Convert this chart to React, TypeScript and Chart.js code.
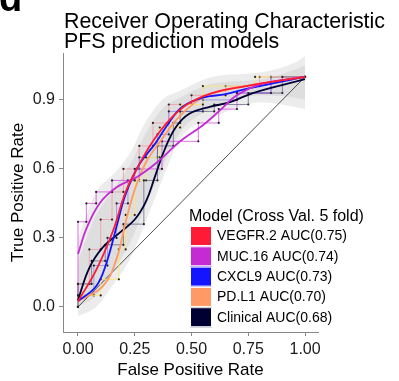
import React, { useEffect, useRef } from "react";
import { Chart, registerables } from "chart.js";

Chart.register(...registerables);

// ---------- data ----------
const modelNames = ["VEGFR.2", "MUC.16", "CXCL9", "PD.L1", "Clinical"];
const aucLabels = ["AUC(0.75)", "AUC(0.74)", "AUC(0.73)", "AUC(0.70)", "AUC(0.68)"];
const modelColors = ["#ff1a35", "#c42bd3", "#1414ff", "#ff9a66", "#000033"];
const stepColors = [
  "rgba(255,120,140,0.55)",
  "rgba(210,70,225,0.75)",
  "rgba(110,110,255,0.6)",
  "rgba(255,230,110,0.85)",
  "rgba(70,70,110,0.6)",
];
const xTicks = [0, 0.25, 0.5, 0.75, 1.0];
const yTicks = [0, 0.3, 0.6, 0.9];
const legendTitle = "Model (Cross Val. 5 fold)";
const titleLines = ["Receiver Operating Characteristic", "PFS prediction models"];
const panelLetter = "d";
const xTitle = "False Positive Rate";
const yTitle = "True Positive Rate";

// smoothed ROC curves (fpr / tpr)
const vegfrFpr = [0, 0.08, 0.154, 0.21, 0.27, 0.33, 0.4, 0.48, 0.59, 0.74, 1];
const vegfrTpr = [0.025, 0.16, 0.33, 0.5, 0.62, 0.72, 0.81, 0.88, 0.93, 0.96, 1.0];
const mucFpr = [0, 0.037, 0.095, 0.17, 0.26, 0.35, 0.45, 0.55, 0.62, 0.7, 0.81, 1];
const mucTpr = [0.23, 0.34, 0.45, 0.52, 0.565, 0.63, 0.72, 0.79, 0.85, 0.92, 0.97, 1.0];
const cxclFpr = [0, 0.08, 0.125, 0.17, 0.21, 0.27, 0.34, 0.4, 0.46, 0.55, 0.65, 0.75, 1];
const cxclTpr = [0.025, 0.09, 0.19, 0.35, 0.49, 0.62, 0.71, 0.8, 0.87, 0.91, 0.925, 0.95, 1.0];
const pdl1Fpr = [0, 0.11, 0.17, 0.21, 0.25, 0.3, 0.37, 0.43, 0.51, 0.58, 0.74, 1];
const pdl1Tpr = [0.025, 0.09, 0.21, 0.37, 0.51, 0.63, 0.73, 0.81, 0.885, 0.925, 0.96, 1.0];
const clinFpr = [0, 0.05, 0.11, 0.18, 0.25, 0.3, 0.34, 0.38, 0.43, 0.49, 0.58, 0.67, 0.77, 1];
const clinTpr = [0.03, 0.17, 0.26, 0.32, 0.38, 0.46, 0.57, 0.68, 0.78, 0.84, 0.87, 0.89, 0.93, 0.99];

// empirical step ROC vertices
const vegfrStepFpr = [0, 0, 0.05, 0.05, 0.1, 0.1, 0.15, 0.15, 0.2, 0.2, 0.27, 0.27, 0.33, 0.33, 0.4, 0.4, 0.5, 0.5, 0.65, 0.65, 0.8, 0.8, 1];
const vegfrStepTpr = [0, 0.1, 0.1, 0.25, 0.25, 0.38, 0.38, 0.5, 0.5, 0.6, 0.6, 0.7, 0.7, 0.8, 0.8, 0.88, 0.88, 0.92, 0.92, 0.96, 0.96, 1, 1];
const mucStepFpr = [0, 0, 0.037, 0.037, 0.08, 0.08, 0.15, 0.15, 0.25, 0.25, 0.37, 0.37, 0.53, 0.53, 0.62, 0.62, 0.7, 0.7, 0.85, 0.85, 1];
const mucStepTpr = [0, 0.37, 0.37, 0.45, 0.45, 0.5, 0.5, 0.55, 0.55, 0.6, 0.6, 0.72, 0.72, 0.8, 0.8, 0.86, 0.86, 0.93, 0.93, 1, 1];
const cxclStepFpr = [0, 0, 0.07, 0.07, 0.13, 0.13, 0.17, 0.17, 0.22, 0.22, 0.27, 0.27, 0.35, 0.35, 0.4, 0.4, 0.55, 0.55, 0.7, 0.7, 0.85, 0.85, 1];
const cxclStepTpr = [0, 0.05, 0.05, 0.18, 0.18, 0.3, 0.3, 0.45, 0.45, 0.55, 0.55, 0.65, 0.65, 0.75, 0.75, 0.85, 0.85, 0.9, 0.9, 0.93, 0.93, 1, 1];
const pdl1StepFpr = [0, 0, 0.1, 0.1, 0.18, 0.18, 0.21, 0.21, 0.25, 0.25, 0.3, 0.3, 0.36, 0.36, 0.45, 0.45, 0.55, 0.55, 0.78, 0.78, 1];
const pdl1StepTpr = [0, 0.05, 0.05, 0.12, 0.12, 0.25, 0.25, 0.4, 0.4, 0.55, 0.55, 0.65, 0.65, 0.78, 0.78, 0.88, 0.88, 0.96, 0.96, 1, 1];
const clinStepFpr = [0, 0, 0.06, 0.06, 0.12, 0.12, 0.2, 0.2, 0.29, 0.29, 0.35, 0.35, 0.42, 0.42, 0.45, 0.45, 0.6, 0.6, 0.75, 0.75, 0.9, 0.9, 1];
const clinStepTpr = [0, 0.1, 0.1, 0.2, 0.2, 0.27, 0.27, 0.36, 0.36, 0.55, 0.55, 0.7, 0.7, 0.8, 0.8, 0.85, 0.85, 0.88, 0.88, 0.93, 0.93, 1, 1];

// confidence ribbons
const bandFpr = [0, 0.08, 0.15, 0.23, 0.29, 0.37, 0.45, 0.59, 0.81, 0.95, 1];
const outerUpper = [0.3, 0.5, 0.57, 0.67, 0.79, 0.9, 0.94, 1.0, 1.02, 1.06, 1.09];
const outerLower = [-0.04, 0.0, 0.09, 0.21, 0.35, 0.55, 0.73, 0.82, 0.89, 0.87, 0.86];
const innerUpper = [0.2, 0.4, 0.5, 0.62, 0.74, 0.86, 0.91, 0.97, 0.99, 1.03, 1.05];
const innerLower = [0.0, 0.05, 0.15, 0.28, 0.42, 0.6, 0.76, 0.86, 0.92, 0.91, 0.9];

const diagFpr = [0, 1];
const diagTpr = [0, 1];

const FONT = "'Liberation Sans', Arial, Helvetica, sans-serif";

const zip = (xs: number[], ys: number[]) => xs.map((x, i) => ({ x, y: ys[i] }));

export default function App() {
  const ref = useRef<HTMLCanvasElement | null>(null);

  useEffect(() => {
    if (!ref.current) return;
    const smooth = [
      [vegfrFpr, vegfrTpr],
      [mucFpr, mucTpr],
      [cxclFpr, cxclTpr],
      [pdl1Fpr, pdl1Tpr],
      [clinFpr, clinTpr],
    ];
    const steps = [
      [vegfrStepFpr, vegfrStepTpr],
      [mucStepFpr, mucStepTpr],
      [cxclStepFpr, cxclStepTpr],
      [pdl1StepFpr, pdl1StepTpr],
      [clinStepFpr, clinStepTpr],
    ];

    const band = { borderWidth: 0, pointRadius: 0, cubicInterpolationMode: "monotone" };
    const datasets: any[] = [
      { ...band, data: zip(bandFpr, outerLower), fill: false, order: 20 },
      { ...band, data: zip(bandFpr, outerUpper), fill: "-1", backgroundColor: "#ececec", order: 19 },
      { ...band, data: zip(bandFpr, innerLower), fill: false, order: 18 },
      { ...band, data: zip(bandFpr, innerUpper), fill: "-1", backgroundColor: "#dedede", order: 17 },
      { data: zip(diagFpr, diagTpr), borderColor: "#222", borderWidth: 0.8, pointRadius: 0, order: 8 },
    ];
    steps.forEach((s, i) => {
      datasets.push({
        data: zip(s[0], s[1]),
        borderColor: stepColors[i],
        borderWidth: 1,
        pointRadius: 1.1,
        pointBackgroundColor: "#222",
        pointBorderWidth: 0,
        order: 10 - i,
      });
    });
    smooth.forEach((s, i) => {
      datasets.push({
        data: zip(s[0], s[1]),
        borderColor: modelColors[i],
        borderWidth: 1.8,
        pointRadius: 0,
        tension: 0.4,
        order: i,
      });
    });

    const overlay = {
      id: "overlay",
      afterDraw(chart: any) {
        const ctx = chart.ctx;
        ctx.save();
        ctx.fillStyle = "#000";
        ctx.textAlign = "left";
        ctx.textBaseline = "alphabetic";
        ctx.font = `bold 38px ${FONT}`;
        ctx.fillText(panelLetter, -1, 11);
        ctx.font = `21.4px ${FONT}`;
        ctx.fillText(titleLines[0], 64, 28);
        ctx.fillText(titleLines[1], 64, 48);
        // legend
        ctx.font = `16px ${FONT}`;
        ctx.fillText(legendTitle, 189, 221);
        ctx.font = `14px ${FONT}`;
        for (let i = 0; i < modelNames.length; i++) {
          const top = 226 + i * 20.3;
          ctx.fillStyle = modelColors[i];
          ctx.fillRect(190, top, 22, 20);
          ctx.strokeStyle = "#fff";
          ctx.lineWidth = 1;
          ctx.strokeRect(190.5, top + 0.5, 21, 19);
          ctx.fillStyle = "#000";
          ctx.textBaseline = "middle";
          ctx.fillText(`${modelNames[i]} ${aucLabels[i]}`, 217, top + 10.5);
        }
        ctx.restore();
      },
    };

    const chart = new Chart(ref.current, {
      type: "line",
      data: { datasets },
      plugins: [overlay],
      options: {
        animation: false,
        responsive: false,
        layout: { padding: { top: 53, right: 81, left: 0, bottom: 0 } },
        plugins: { legend: { display: false }, tooltip: { enabled: false }, title: { display: false } },
        scales: {
          x: {
            type: "linear",
            min: -0.066,
            max: 1.057,
            afterFit: (s: any) => { s.height = 49; },
            afterBuildTicks: (s: any) => { s.ticks = xTicks.map((v) => ({ value: v })); },
            ticks: {
              callback: (v: any) => Number(v).toFixed(2),
              color: "#1a1a1a",
              font: { family: FONT, size: 16 },
              padding: 4,
              maxRotation: 0,
            },
            grid: { drawOnChartArea: false, drawTicks: true, tickLength: 4, color: "#888" },
            border: { display: true, color: "#888", width: 1 },
            title: { display: true, text: xTitle, color: "#000", font: { family: FONT, size: 17 }, padding: { top: 0, bottom: 0 } },
          },
          y: {
            type: "linear",
            min: -0.109,
            max: 1.104,
            afterFit: (s: any) => { s.width = 63; },
            afterBuildTicks: (s: any) => { s.ticks = yTicks.map((v) => ({ value: v })); },
            ticks: {
              callback: (v: any) => Number(v).toFixed(1),
              color: "#1a1a1a",
              font: { family: FONT, size: 16 },
              padding: 4,
            },
            grid: { drawOnChartArea: false, drawTicks: true, tickLength: 4, color: "#888" },
            border: { display: true, color: "#888", width: 1 },
            title: { display: true, text: yTitle, color: "#000", font: { family: FONT, size: 17 }, padding: { top: 8, bottom: 0 } },
          },
        },
      } as any,
    });
    return () => chart.destroy();
  }, []);

  return (
    <div style={{ position: "fixed", left: 0, top: 0, width: 399, height: 381, background: "#fff" }}>
      <canvas ref={ref} width={399} height={381} style={{ width: 399, height: 381, display: "block" }} />
    </div>
  );
}
